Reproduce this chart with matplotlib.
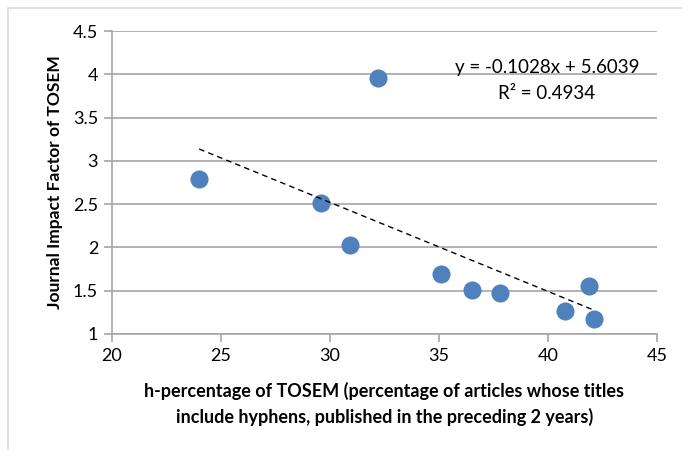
import numpy as np
import matplotlib
matplotlib.use("Agg")
import matplotlib.pyplot as plt
from matplotlib.patches import Rectangle

# h-percentage vs journal impact factor
h_pct = [24.0, 32.2, 29.6, 30.9, 35.1, 36.5, 37.8, 40.8, 41.9, 42.1]
impact = [2.79, 3.96, 2.51, 2.03, 1.69, 1.51, 1.47, 1.27, 1.55, 1.17]
slope, intercept = -0.1028, 5.6039
r2 = 0.4934

x_ticks = [20, 25, 30, 35, 40, 45]
y_ticks = [1, 1.5, 2, 2.5, 3, 3.5, 4, 4.5]

plt.rcParams['font.family'] = ['Lato', 'DejaVu Sans']

fig = plt.figure(figsize=(6.82, 4.5), dpi=100)
ax = fig.add_axes([112 / 682, 1 - 334 / 450, (657 - 112) / 682, (334 - 31) / 450])

# outer chart border
fig.patches.append(Rectangle((8 / 682, -0.1), 1.0, 1 - 8 / 450 + 0.1,
                             transform=fig.transFigure, fill=False,
                             edgecolor='#d9d9d9', linewidth=1.2))

ax.scatter(h_pct, impact, s=170, color='#4f81bd', zorder=3, linewidths=0)

xs = np.array([min(h_pct), max(h_pct)])
ax.plot(xs, slope * xs + intercept, linestyle=(0, (4, 3)), color='black',
        linewidth=1, zorder=4)

ax.set_xlim(20, 45)
ax.set_ylim(1, 4.5)
ax.set_xticks(x_ticks)
ax.set_yticks(y_ticks)
ax.set_xticklabels([str(t) for t in x_ticks], fontsize=13)
ax.set_yticklabels([f"{t:g}" for t in y_ticks], fontsize=13)
ax.yaxis.grid(True, color='#a6a6a6', linewidth=1.2)
ax.set_axisbelow(True)
for side in ['top', 'right']:
    ax.spines[side].set_visible(False)
for side in ['left', 'bottom']:
    ax.spines[side].set_color('#a6a6a6')
    ax.spines[side].set_linewidth(1.2)
ax.tick_params(axis='both', color='#a6a6a6', width=1.2, length=6, pad=4)

ax.set_ylabel("Journal Impact Factor of TOSEM", fontsize=12.5,
              fontweight='bold', labelpad=7)
ax.set_xlabel("h-percentage of TOSEM (percentage of articles whose titles\n"
              "include hyphens, published in the preceding 2 years)",
              fontsize=13, fontweight='bold', labelpad=13, linespacing=1.55)

ax.text(0.798, 0.881, f"y = {slope}x + {intercept}", transform=ax.transAxes,
        ha='center', va='center', fontsize=13.5)
ax.text(0.798, 0.795, f"R\u00b2 = {r2}", transform=ax.transAxes,
        ha='center', va='center', fontsize=13.5)

fig.savefig("out.png", dpi=100)
